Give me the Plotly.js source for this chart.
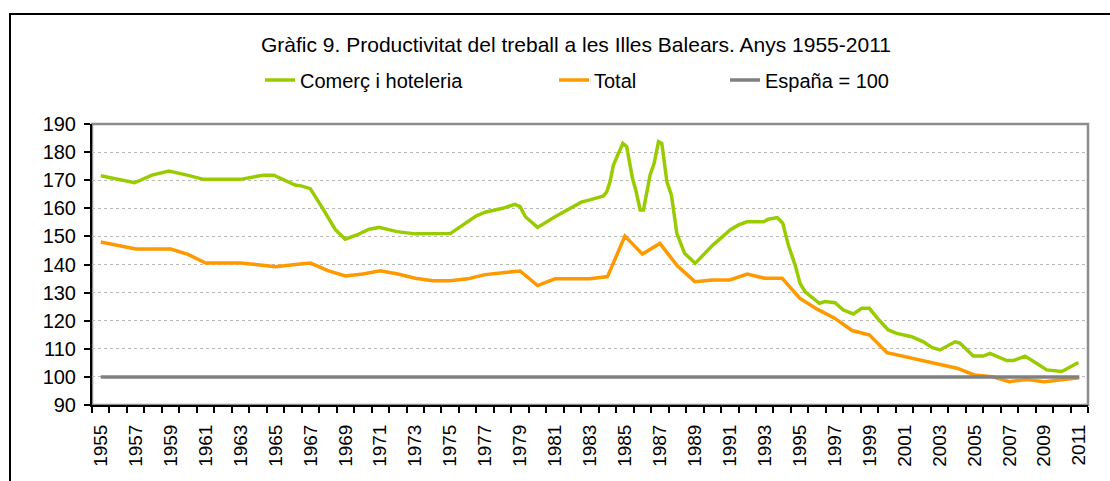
<!DOCTYPE html>
<html>
<head>
<meta charset="utf-8">
<script src="https://cdn.plot.ly/plotly-3.0.1.min.js"></script>
<style>
html,body{margin:0;padding:0;background:#fff;overflow:hidden;}
#chart{width:1110px;height:481px;}
#frame{position:absolute;left:9px;top:13px;width:1200px;height:600px;border-left:2px solid #000;border-top:2px solid #000;pointer-events:none;}
</style>
</head>
<body>
<div id="chart"></div>
<div id="frame"></div>
<script>
// ---- data ----
const years = [1955,1956,1957,1958,1959,1960,1961,1962,1963,1964,1965,1966,1967,1968,1969,1970,1971,1972,1973,1974,1975,1976,1977,1978,1979,1980,1981,1982,1983,1984,1985,1986,1987,1988,1989,1990,1991,1992,1993,1994,1995,1996,1997,1998,1999,2000,2001,2002,2003,2004,2005,2006,2007,2008,2009,2010,2011];

const totalValues = [148.0,146.8,145.5,145.5,145.5,143.6,140.5,140.5,140.5,139.9,139.2,139.9,140.5,137.8,135.9,136.6,137.8,136.6,135.1,134.2,134.2,134.9,136.4,137.1,137.7,132.5,134.9,134.9,134.9,135.7,150.1,143.7,147.5,139.5,133.9,134.5,134.5,136.6,135.1,135.1,128.0,124.1,120.9,116.5,114.9,108.6,107.2,105.8,104.5,103.1,100.7,100.1,98.3,99.1,98.3,99.0,99.7];

const spainValues = [100,100,100,100,100,100,100,100,100,100,100,100,100,100,100,100,100,100,100,100,100,100,100,100,100,100,100,100,100,100,100,100,100,100,100,100,100,100,100,100,100,100,100,100,100,100,100,100,100,100,100,100,100,100,100,100,100];

const comercYears = [1955.0,1956.94,1957.93,1958.9,1959.94,1960.89,1962.99,1964.32,1964.9,1965.66,1966.13,1966.52,1966.99,1967.7,1968.42,1968.99,1969.66,1970.33,1970.92,1971.95,1973.0,1975.0,1975.5,1976.0,1976.5,1977.0,1978.0,1978.7,1979.0,1979.3,1980.0,1981.0,1982.0,1982.5,1983.0,1983.77,1983.96,1984.15,1984.34,1984.54,1984.88,1985.1,1985.43,1985.62,1985.87,1986.06,1986.44,1986.67,1986.92,1987.11,1987.4,1987.66,1987.97,1988.41,1989.02,1990.03,1991.02,1991.5,1991.98,1992.93,1993.2,1993.72,1994.03,1994.35,1994.74,1995.02,1995.31,1996.13,1996.45,1997.02,1997.5,1998.07,1998.55,1998.99,1999.5,2000.07,2000.55,2001.41,2002.08,2002.56,2003.03,2003.89,2004.17,2004.94,2005.51,2005.89,2006.85,2007.23,2007.9,2008.57,2009.14,2010.0,2010.95];

const comercValues = [171.6,169.1,171.8,173.3,171.8,170.3,170.3,171.8,171.8,169.5,168.3,167.9,167.0,160.0,152.5,149.0,150.5,152.5,153.2,151.7,150.9,151.0,153.2,155.2,157.3,158.6,160.0,161.4,160.6,157.0,153.2,157.0,160.6,162.2,163.0,164.4,165.9,169.5,175.4,178.4,183.1,181.9,170.7,166.5,159.4,159.4,171.9,176.0,183.7,183.1,169.5,164.7,151.1,144.0,140.4,146.9,152.3,154.1,155.2,155.2,156.1,156.7,154.7,146.9,139.8,133.3,130.3,126.2,126.8,126.4,123.8,122.4,124.4,124.4,120.5,116.7,115.5,114.3,112.5,110.5,109.6,112.5,112.0,107.4,107.4,108.4,105.8,105.8,107.4,104.8,102.5,101.9,105.1];

const tickYears = [1955,1957,1959,1961,1963,1965,1967,1969,1971,1973,1975,1977,1979,1981,1983,1985,1987,1989,1991,1993,1995,1997,1999,2001,2003,2005,2007,2009,2011];
const tickLabels = tickYears.map(String);

const seriesNames = ['Comerç i hoteleria','Total','España = 100'];
const chartTitle = 'Gràfic 9. Productivitat del treball a les Illes Balears. Anys 1955-2011';

// ---- traces ----
const traces = [
  {x: comercYears, y: comercValues, name: seriesNames[0], type: 'scatter', mode: 'lines',
   line: {color: '#99cc00', width: 3.5}, legend: 'legend', hoverinfo: 'x+y'},
  {x: years, y: totalValues, name: seriesNames[1], type: 'scatter', mode: 'lines',
   line: {color: '#ff9900', width: 3.5}, legend: 'legend2', hoverinfo: 'x+y'},
  {x: years, y: spainValues, name: seriesNames[2], type: 'scatter', mode: 'lines',
   line: {color: '#808080', width: 3.5}, legend: 'legend3', hoverinfo: 'x+y'}
];

const legendFont = {family: '"Liberation Sans", Arial, sans-serif', size: 20, color: '#000'};
function legendAt(px) {
  return {xref: 'container', yref: 'container', x: px / 1110, y: 1 - 80 / 481,
          xanchor: 'left', yanchor: 'middle', orientation: 'h', bgcolor: 'rgba(0,0,0,0)',
          borderwidth: 0, font: legendFont};
}

const layout = {
  width: 1110, height: 481,
  margin: {l: 92, r: 22, t: 124, b: 76},
  paper_bgcolor: '#ffffff', plot_bgcolor: '#ffffff',
  font: {family: '"Liberation Sans", Arial, sans-serif', color: '#000', size: 19},
  title: {text: chartTitle, xref: 'container', yref: 'container', x: 576 / 1110, xanchor: 'center',
          y: 1 - 45 / 481, yanchor: 'middle', font: {size: 21, color: '#000'}},
  showlegend: true,
  legend: legendAt(260),
  legend2: legendAt(554),
  legend3: legendAt(725),
  xaxis: {
    range: [1954.5, 2011.5], tickmode: 'array', tickvals: tickYears, ticktext: tickLabels,
    tickangle: -90, ticks: 'outside', ticklen: 6, tickcolor: 'rgba(0,0,0,0)', ticklabelstandoff: 4,
    tickfont: {size: 19}, showgrid: false, zeroline: false,
    showline: true, linecolor: '#000', linewidth: 2,
    minor: {tickmode: 'linear', tick0: 1954.5, dtick: 1, ticks: 'outside', ticklen: 6,
            tickcolor: '#000', tickwidth: 2, showgrid: false}
  },
  yaxis: {
    range: [90, 190], tickmode: 'linear', tick0: 90, dtick: 10,
    ticks: 'outside', ticklen: 6, tickcolor: '#000', tickwidth: 2, tickfont: {size: 20},
    ticklabelstandoff: 4,
    showline: true, linecolor: '#000', linewidth: 2, zeroline: false,
    showgrid: true, gridcolor: '#b8b8b8', gridwidth: 1, griddash: 'dot'
  },
  shapes: [{type: 'rect', xref: 'paper', yref: 'paper', x0: 0, x1: 1, y0: 0, y1: 1,
            line: {color: '#8c8c8c', width: 2.5}, layer: 'below'}]
};

Plotly.newPlot('chart', traces, layout, {displayModeBar: false, staticPlot: true});
</script>
</body>
</html>
